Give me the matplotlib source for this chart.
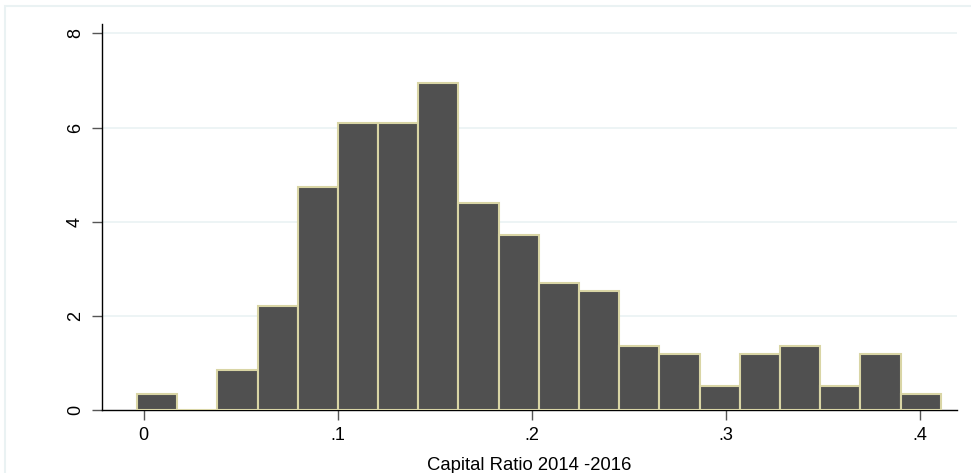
import numpy as np
import matplotlib.pyplot as plt
from matplotlib.patches import Rectangle

plt.rcParams['font.family'] = ['Liberation Sans', 'DejaVu Sans']

# histogram of capital ratio, 20 equal-width bins (density scale)
bin_start = -0.0035
bin_width = 0.0207
density = [0.34, 0.0, 0.84, 2.20, 4.73, 6.09, 6.09, 6.94, 4.39, 3.72,
           2.70, 2.53, 1.35, 1.18, 0.50, 1.18, 1.35, 0.50, 1.18, 0.33]
x_ticks = [0, 0.1, 0.2, 0.3, 0.4]
x_ticklabels = ["0", ".1", ".2", ".3", ".4"]
y_ticks = [0, 2, 4, 6, 8]
x_label = "Capital Ratio 2014 -2016"

edges = bin_start + bin_width * np.arange(len(density))

fig = plt.figure(figsize=(9.71, 4.73), dpi=100)
fig.patches.append(Rectangle((5 / 971, -0.1), 1.2, (467 + 0.1 * 473) / 473,
                             transform=fig.transFigure, fill=False,
                             edgecolor="#eaf2f3", linewidth=1.5))
ax = fig.add_axes([102 / 971, 63 / 473, 855 / 971, 386 / 473])

ax.bar(edges, density, width=bin_width, align="edge", color="#505050",
       edgecolor="#d9d5a5", linewidth=1.5, zorder=3)

ax.set_xlim(-0.0215, 0.4189)
ax.set_ylim(0, 8.2)
ax.set_xticks(x_ticks)
ax.set_xticklabels(x_ticklabels)
ax.set_yticks(y_ticks)
ax.set_yticklabels([str(v) for v in y_ticks], rotation=90, va="center")

for v in y_ticks[1:]:
    ax.axhline(v, color="#eaf2f3", linewidth=1.2, zorder=1)

for side in ("top", "right"):
    ax.spines[side].set_visible(False)
for side in ("left", "bottom"):
    ax.spines[side].set_color("black")
    ax.spines[side].set_linewidth(1.0)

ax.tick_params(axis="both", labelsize=13, length=7, color="#555555", width=1.0)
ax.tick_params(axis="y", pad=6)
ax.tick_params(axis="x", pad=5)

# axis title sits near the bottom edge of the graph region
fig.text(0.5453, 3.5 / 473, x_label, fontsize=13.3, ha="center", va="baseline")

fig.savefig("out.png", dpi=100)
